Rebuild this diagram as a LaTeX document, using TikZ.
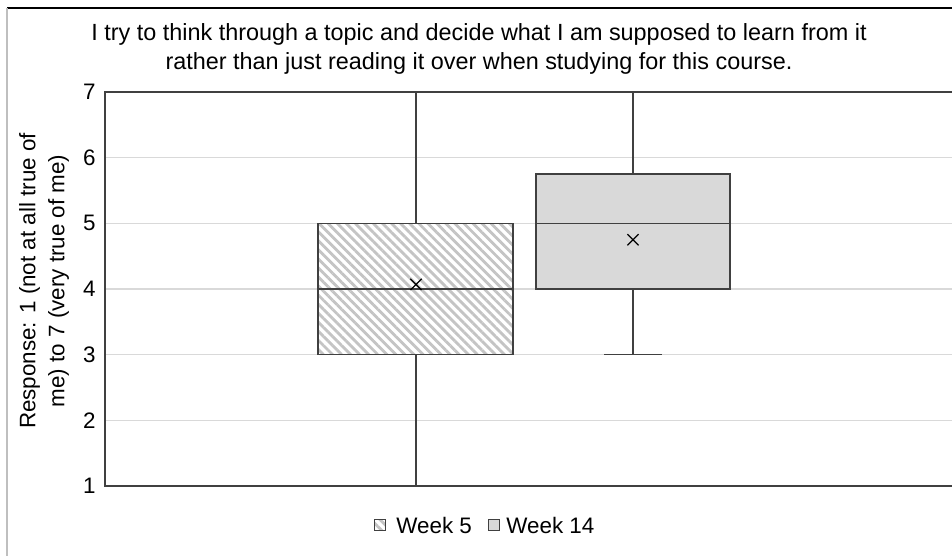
\documentclass[tikz,border=0pt]{standalone}
\usepackage{fontspec}
\setmainfont{Liberation Sans}
\usetikzlibrary{patterns.meta,shapes.misc}

\definecolor{gridgray}{HTML}{D9D9D9}
\definecolor{boxgray}{HTML}{D9D9D9}
\definecolor{linegray}{HTML}{404040}
\definecolor{hatchgray}{HTML}{C4C4C4}

\tikzset{
    lbl/.style={font=\fontsize{11.2}{14.5}\selectfont, inner sep=0pt},
    boxline/.style={draw=linegray, line width=0.7pt},
    hatchbox/.style={pattern={Lines[angle=-45,distance=3.2pt,line width=1.4pt]}, pattern color=hatchgray},
    meanmark/.style={cross out, draw=black, line width=0.6pt, minimum size=5pt, inner sep=0pt},
    keybox/.style={draw=linegray, line width=0.5pt, minimum size=5.5pt, inner sep=0pt},
}

\begin{document}
\begin{tikzpicture}[x=0.5pt,y=-0.5pt]

    \useasboundingbox (0,0) rectangle (952,556);

    % Frame
    \draw[black, line width=0.9pt] (7,8) -- (952,8);
    \draw[black!25, line width=0.9pt] (7,8) -- (7,556);

    % Title
    \node[lbl, font=\fontsize{11.7}{14.5}\selectfont, align=center] (title) at (479,49)
        {I try to think through a topic and decide what I am supposed to learn from it\\
         rather than just reading it over when studying for this course.};

    % Axis label
    \node[lbl, align=center, rotate=90] (ylabel) at (44,281)
        {Response: 1 (not at all true of\\ me) to 7 (very true of me)};

    % Plot (y in response units)
    \begin{scope}[shift={(0,551.67)}, y=32.833pt]

        % Grid
        \foreach \v in {2,...,6}
            \draw[gridgray, line width=0.7pt] (105,\v) -- (952,\v);

        % Axes
        \draw[linegray, line width=0.8pt] (952,7) -- (105,7) -- (105,1) -- (952,1);
        \foreach \v in {1,...,7}
            \node[lbl, anchor=east] (tick\v) at (96,\v) {\v};

        % Week 5
        \fill[white] (318,3) rectangle (513,5);
        \fill[hatchbox] (318,3) rectangle (513,5);
        \draw[boxline] (318,3) rectangle (513,5);
        \draw[boxline] (318,4) -- (513,4);
        \draw[boxline] (416,5) -- (416,7) (387,7) -- (444,7);
        \draw[boxline] (416,3) -- (416,1) (387,1) -- (444,1);
        \node[meanmark] (mean5) at (416,4.07) {};

        % Week 14
        \draw[boxline, fill=boxgray] (536,4) rectangle (730,5.75);
        \draw[boxline] (536,5) -- (730,5);
        \draw[boxline] (633,5.75) -- (633,7) (604,7) -- (662,7);
        \draw[boxline] (633,4) -- (633,3) (604,3) -- (662,3);
        \node[meanmark] (mean14) at (633,4.75) {};

    \end{scope}

    % Legend
    \node[keybox, hatchbox] (key5) at (380,525) {};
    \node[lbl, anchor=west] (leg5) at (396,525) {Week 5};
    \node[keybox, fill=boxgray] (key14) at (494,525) {};
    \node[lbl, anchor=west] (leg14) at (506,525) {Week 14};

\end{tikzpicture}
\end{document}
